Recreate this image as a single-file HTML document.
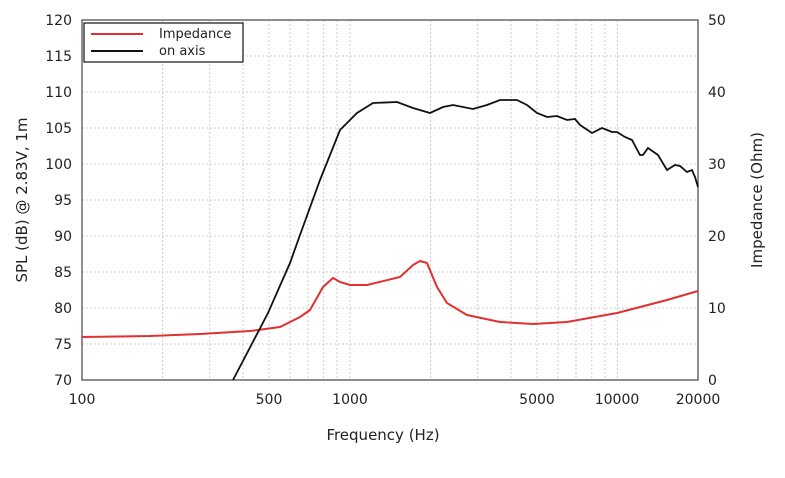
<!DOCTYPE html>
<html><head><style>body{margin:0;background:#fff}svg{display:block}text{font-family:"DejaVu Sans","Liberation Sans",sans-serif;fill:#222}</style></head><body>
<svg width="785" height="478" viewBox="0 0 785 478">
<g stroke="#ccc" stroke-width="1" stroke-dasharray="2,2">
<line x1="162.6" y1="20" x2="162.6" y2="380"/><line x1="209.7" y1="20" x2="209.7" y2="380"/><line x1="243" y1="20" x2="243" y2="380"/><line x1="269" y1="20" x2="269" y2="380"/><line x1="290" y1="20" x2="290" y2="380"/><line x1="308" y1="20" x2="308" y2="380"/><line x1="323.6" y1="20" x2="323.6" y2="380"/><line x1="337" y1="20" x2="337" y2="380"/><line x1="350" y1="20" x2="350" y2="380"/><line x1="430.6" y1="20" x2="430.6" y2="380"/><line x1="477.7" y1="20" x2="477.7" y2="380"/><line x1="511" y1="20" x2="511" y2="380"/><line x1="537" y1="20" x2="537" y2="380"/><line x1="558" y1="20" x2="558" y2="380"/><line x1="576" y1="20" x2="576" y2="380"/><line x1="591.8" y1="20" x2="591.8" y2="380"/><line x1="605" y1="20" x2="605" y2="380"/><line x1="617.4" y1="20" x2="617.4" y2="380"/>
<line x1="82" y1="56" x2="698" y2="56"/><line x1="82" y1="92" x2="698" y2="92"/><line x1="82" y1="128" x2="698" y2="128"/><line x1="82" y1="164" x2="698" y2="164"/><line x1="82" y1="200" x2="698" y2="200"/><line x1="82" y1="236" x2="698" y2="236"/><line x1="82" y1="272" x2="698" y2="272"/><line x1="82" y1="308" x2="698" y2="308"/><line x1="82" y1="344" x2="698" y2="344"/>
</g>
<rect x="82" y="20" width="616" height="360" fill="none" stroke="#444" stroke-width="1.2"/>
<polyline fill="none" stroke="#e03030" stroke-width="2" points="82,337 150,336 200,334 250,331 280,327 300,317 310,310 323,287 333,278 340,282 350,285 367,285 400,277 413,265 420,261 427,263 437,287 447,303 467,315 500,322 533,324 567,322 617,313 667,300 698,291"/>
<polyline fill="none" stroke="#111" stroke-width="1.8" points="233,380 268,313 290,263 300,235 320,180 340,130 357,113 373,103 397,102 413,108 430,113 443,107 453,105 473,109 487,105 500,100 517,100 527,105 537,113 547,117 557,116 567,120 575,119 580,125 592,133 602,128 612,132 617,132 625,137 632,140 640,155 643,155 648,148 658,155 667,170 675,165 680,166 687,172 692,170 695,177 698,187"/>
<rect x="84" y="23" width="159" height="39" fill="#fff" stroke="#111" stroke-width="1.2"/>
<line x1="91" y1="34" x2="143" y2="34" stroke="#e03030" stroke-width="2"/>
<line x1="91" y1="51" x2="143" y2="51" stroke="#111" stroke-width="2"/>
<text x="159" y="38" font-size="13">Impedance</text>
<text x="159" y="55" font-size="13">on axis</text>
<g font-size="14" text-anchor="end">
<text x="72" y="25">120</text><text x="72" y="61">115</text><text x="72" y="97">110</text><text x="72" y="133">105</text><text x="72" y="169">100</text><text x="72" y="205">95</text><text x="72" y="241">90</text><text x="72" y="277">85</text><text x="72" y="313">80</text><text x="72" y="349">75</text><text x="72" y="385">70</text>
</g>
<g font-size="14" text-anchor="start">
<text x="708" y="25">50</text><text x="708" y="97">40</text><text x="708" y="169">30</text><text x="708" y="241">20</text><text x="708" y="313">10</text><text x="708" y="385">0</text>
</g>
<g font-size="14" text-anchor="middle">
<text x="82" y="404">100</text><text x="269" y="404">500</text><text x="350" y="404">1000</text><text x="537" y="404">5000</text><text x="617" y="404">10000</text><text x="698" y="404">20000</text>
</g>
<text x="383" y="440" font-size="15" text-anchor="middle">Frequency (Hz)</text>
<text transform="translate(27,200) rotate(-90)" font-size="15" text-anchor="middle">SPL (dB) @ 2.83V, 1m</text>
<text transform="translate(762,200) rotate(-90)" font-size="15" text-anchor="middle">Impedance (Ohm)</text>
</svg>
</body></html>
